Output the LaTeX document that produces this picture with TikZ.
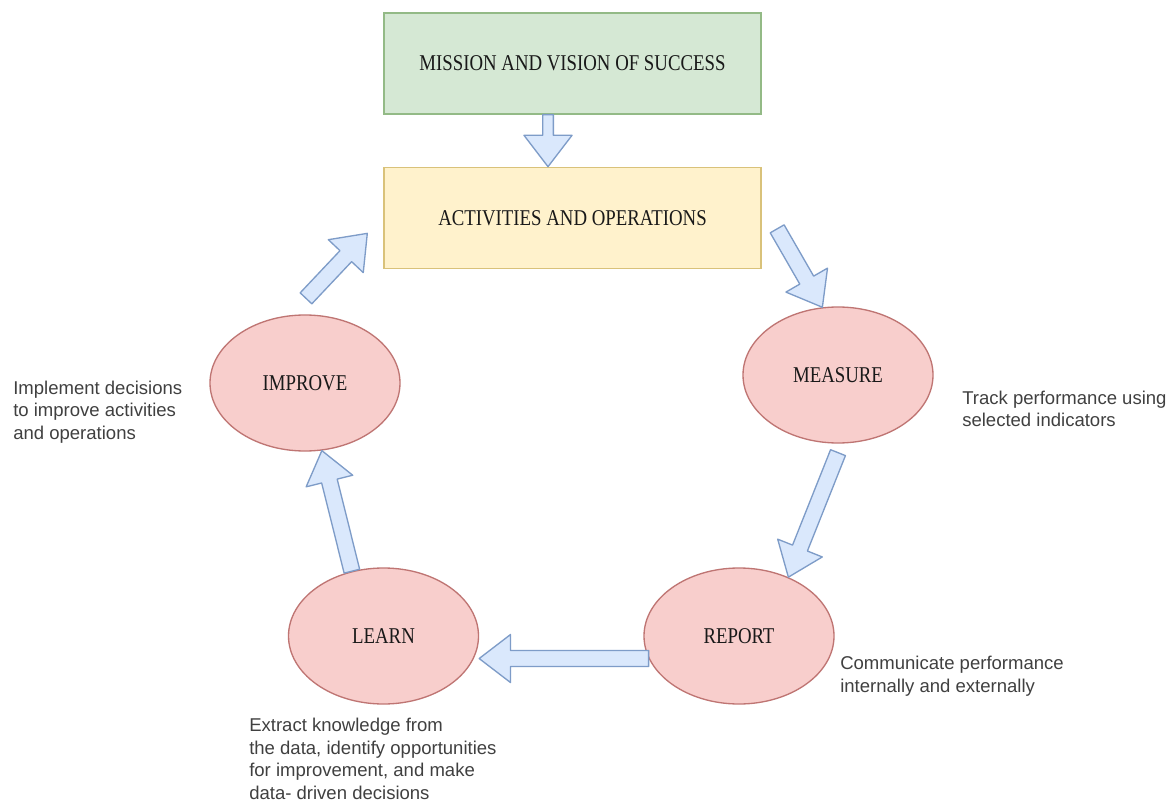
\documentclass[tikz,border=0pt]{standalone}
\usepackage{fontspec}
\setmainfont{Liberation Serif}
\setsansfont{Liberation Sans}
\usetikzlibrary{positioning}
\usetikzlibrary{calc}
\usetikzlibrary{shapes.geometric}

\definecolor{missionfill}{HTML}{D5E8D4}
\definecolor{missionline}{HTML}{93BA86}
\definecolor{taskfill}{HTML}{FFF2CC}
\definecolor{taskline}{HTML}{D9C27A}
\definecolor{stagefill}{HTML}{F8CECC}
\definecolor{stageline}{HTML}{BF7573}
\definecolor{flowfill}{HTML}{DAE8FC}
\definecolor{flowline}{HTML}{7E9CC8}

% caps labels are set a little taller than the font gives
\newcommand{\tall}[1]{\scalebox{1}[1.2]{#1}}

\tikzstyle{block} = [draw, rectangle, line width=1pt, minimum width=282.75pt, minimum height=75.75pt, font=\fontsize{14.1pt}{17pt}\selectfont, text=black!90]
\tikzstyle{stage} = [draw=stageline, fill=stagefill, ellipse, line width=1pt, inner sep=0pt, minimum width=142.5pt, minimum height=102pt, font=\fontsize{14.1pt}{17pt}\selectfont, text=black!90]
\tikzstyle{note} = [anchor=west, align=left, inner sep=0pt, font=\sffamily\fontsize{13.9pt}{16.9pt}\selectfont, text=black!75]
\tikzstyle{flowarrow} = [draw=flowline, fill=flowfill, line width=1pt, line join=round]

% fat block arrow from #2 to #3, #1 = half width of the shaft
\newcommand{\flow}[3][6pt]{%
  \draw[flowarrow] let \p1=($(#3)-(#2)$), \n1={atan2(\y1,\x1)}, \n2={veclen(\x1,\y1)} in
    [shift={(#2)}, rotate=\n1]
    (0pt,-#1) -- (\n2-23.5pt,-#1) -- (\n2-23.5pt,-18pt) -- (\n2+0pt,0pt)
    -- (\n2-23.5pt,18pt) -- (\n2-23.5pt,#1) -- (0pt,#1) -- cycle;
}

\begin{document}
\begin{tikzpicture}[x=0.75pt, y=-0.75pt]

  \fill[white] (0,0) rectangle (1174,805);
  \useasboundingbox (0,0) rectangle (1174,805);

  \node [block, draw=missionline, fill=missionfill] (mission) at (572.5,63.5) {\tall{MISSION AND VISION OF SUCCESS}};
  \node [block, draw=taskline, fill=taskfill, below=39pt of mission] (activities) {\tall{ACTIVITIES AND OPERATIONS}};

  \node [stage] (improve) at (305,383) {\tall{IMPROVE}};
  \node [stage] (measure) at (838,375) {\tall{MEASURE}};
  \node [stage] (report) at (739,636) {\tall{REPORT}};
  \node [stage] (learn) at (383.5,636) {\tall{LEARN}};

  \node [note] (improvenote) at (13,412) {Implement decisions\\to improve activities\\and operations};
  \node [note] (measurenote) at (962,409) {Track performance using\\selected indicators};
  \node [note] (reportnote) at (840,676) {Communicate performance\\internally and externally};
  \node [note] (learnnote) at (249,759) {Extract knowledge from\\the data, identify opportunities\\for improvement, and make\\data- driven decisions};

  % arrow ends that sit off the node borders
  \coordinate (topout) at ($(mission.south)+(-24.5,0)$);
  \coordinate (topin) at ($(activities.north)+(-24.5,0)$);
  \coordinate (opsout) at ($(activities.east)+(15.5,11)$);
  \coordinate (opsin) at ($(activities.west)+(-16,15.5)$);
  \coordinate (measureout) at ($(measure.south)+(0,9)$);
  \coordinate (learnin) at (learn.east |- report.194);
  \coordinate (improveout) at ($(improve.north)+(1,-16)$);

  \flow[4pt]{topout}{topin}
  \flow{opsout}{measure.103}
  \flow{measureout}{report.50}
  \flow{report.194}{learnin}
  \flow{learn.116}{improve.-76}
  \flow{improveout}{opsin}

\end{tikzpicture}
\end{document}
